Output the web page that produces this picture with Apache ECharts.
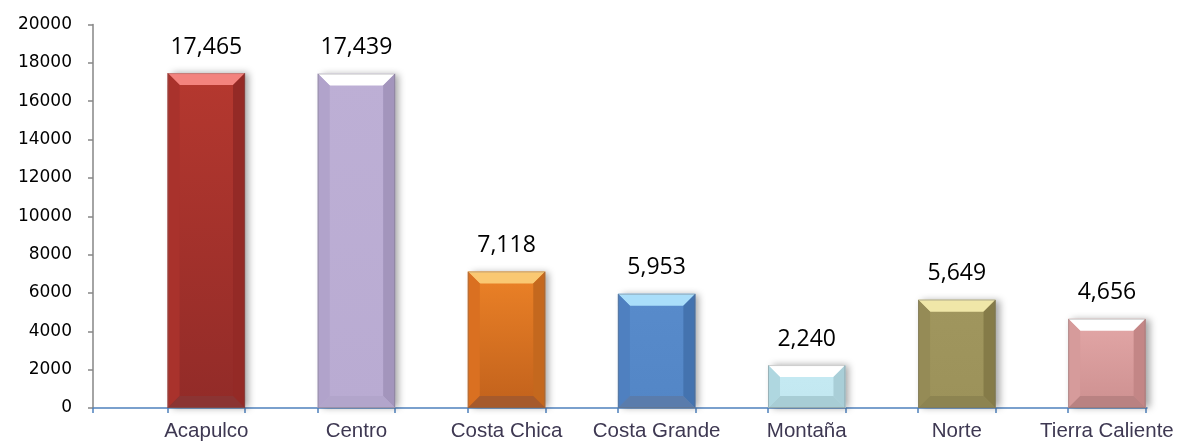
<!DOCTYPE html>
<html>
<head>
<meta charset="utf-8">
<script src="https://cdn.jsdelivr.net/npm/echarts@6/dist/echarts.min.js"></script>
<style>html,body{margin:0;padding:0;background:#fff}#c{width:1180px;height:447px}</style>
</head>
<body>
<div id="c"></div>
<script>
const categories = ['Acapulco', 'Centro', 'Costa Chica', 'Costa Grande', 'Montaña', 'Norte', 'Tierra Caliente'];
const values = [17465, 17439, 7118, 5953, 2240, 5649, 4656];
const yTicks = [0, 2000, 4000, 6000, 8000, 10000, 12000, 14000, 16000, 18000, 20000];

// bevel palette per bar: [mainTop, mainBottom, topBevel, leftBevel, rightBevel, bottomBevel]
const palette = [
  ['#B5382F', '#922B28', '#F3837E', '#A9322C', '#942A26', '#8B3433'],
  ['#BDAFD5', '#B9ABD2', '#FFFFFF', '#B1A3CB', '#A395BC', '#B2A5CB'],
  ['#EC8227', '#C1611C', '#FAC872', '#DA7021', '#C4681E', '#A65A2C'],
  ['#588BCB', '#5386C6', '#AADEFA', '#4F80C0', '#4473AF', '#5A7CAC'],
  ['#C5EAF3', '#C2E7F0', '#FFFFFF', '#AFD7E0', '#A9CED7', '#A8CDD5'],
  ['#A0965E', '#9C925A', '#F0E7A8', '#958B56', '#857B48', '#8D8451'],
  ['#E3A7A7', '#CD9090', '#FFFFFF', '#D69B9B', '#C38686', '#B98282']
];

const barUnits = 0.516;
const bevel = 12;

const chart = echarts.init(document.getElementById('c'), null, {renderer: 'canvas'});

const tickVals = [-0.755];
categories.forEach((c, i) => { tickVals.push(i - barUnits / 2, i + barUnits / 2); });

function renderBar(params, api) {
  const i = params.dataIndex;
  const xv = api.value(0), yv = api.value(1);
  const topPt = api.coord([xv, yv]);
  const basePt = api.coord([xv, 0]);
  const w = api.size([barUnits, 0])[0];
  const x0 = topPt[0] - w / 2, x1 = topPt[0] + w / 2;
  const y0 = topPt[1], y1 = basePt[1];
  const h = y1 - y0;
  const b = Math.min(bevel, h / 3.2);
  const p = palette[i];
  return {
    type: 'group',
    children: [
      {
        type: 'rect',
        shape: {x: x0, y: y0, width: w, height: h},
        style: {
          fill: new echarts.graphic.LinearGradient(0, 0, 0, 1, [
            {offset: 0, color: p[0]}, {offset: 1, color: p[1]}
          ]),
          shadowBlur: 7, shadowOffsetX: 4, shadowOffsetY: 0,
          shadowColor: 'rgba(0,0,0,0.35)'
        }
      },
      {
        type: 'polygon',
        shape: {points: [[x0, y0], [x1, y0], [x1 - b, y0 + b], [x0 + b, y0 + b]]},
        style: {fill: p[2]}
      },
      {
        type: 'polygon',
        shape: {points: [[x0, y0], [x0 + b, y0 + b], [x0 + b, y1 - b], [x0, y1]]},
        style: {fill: p[3]}
      },
      {
        type: 'polygon',
        shape: {points: [[x1, y0], [x1, y1], [x1 - b, y1 - b], [x1 - b, y0 + b]]},
        style: {fill: p[4]}
      },
      {
        type: 'polygon',
        shape: {points: [[x0, y1], [x1, y1], [x1 - b, y1 - b], [x0 + b, y1 - b]]},
        style: {fill: p[5]}
      },
      {
        type: 'rect',
        shape: {x: x0 + 0.5, y: y0 + 0.5, width: w - 1, height: h - 1},
        style: {fill: null, stroke: 'rgba(110,110,110,0.35)', lineWidth: 1}
      },
      {
        type: 'text',
        style: {
          x: topPt[0], y: y0 - 26,
          text: echarts.format.addCommas(yv),
          fill: '#000', fontSize: 23,
          fontFamily: '"Open Sans", sans-serif',
          align: 'center', verticalAlign: 'middle'
        }
      }
    ]
  };
}

chart.setOption({
  animation: false,
  backgroundColor: '#fff',
  grid: {left: 93, right: 33, top: 24.5, bottom: 39, containLabel: false},
  xAxis: {
    type: 'value',
    min: -0.755, max: 6.267,
    splitLine: {show: false},
    axisLine: {show: true, onZero: false, lineStyle: {color: '#4F81BD', width: 1.5}},
    axisTick: {show: true, customValues: tickVals, length: 5, lineStyle: {color: '#4F81BD', width: 1.5}},
    axisLabel: {
      show: true,
      customValues: categories.map((c, i) => i),
      formatter: v => categories[Math.round(v)],
      color: '#3E3852', fontSize: 20.5,
      fontFamily: '"Liberation Sans", Arial, sans-serif',
      margin: 13
    }
  },
  yAxis: {
    type: 'value',
    min: 0, max: 20000, interval: 2000,
    splitLine: {show: false},
    axisLine: {show: true, onZero: false, lineStyle: {color: '#868686', width: 1.5}},
    axisTick: {show: true, length: 5, lineStyle: {color: '#868686', width: 1.5}},
    axisLabel: {
      color: '#000', fontSize: 17,
      fontFamily: '"DejaVu Sans", sans-serif',
      margin: 21,
      formatter: v => String(v)
    }
  },
  series: [{
    type: 'custom',
    renderItem: renderBar,
    encode: {x: 0, y: 1},
    clip: false,
    data: values.map((v, i) => [i, v])
  }]
});
</script>
</body>
</html>
